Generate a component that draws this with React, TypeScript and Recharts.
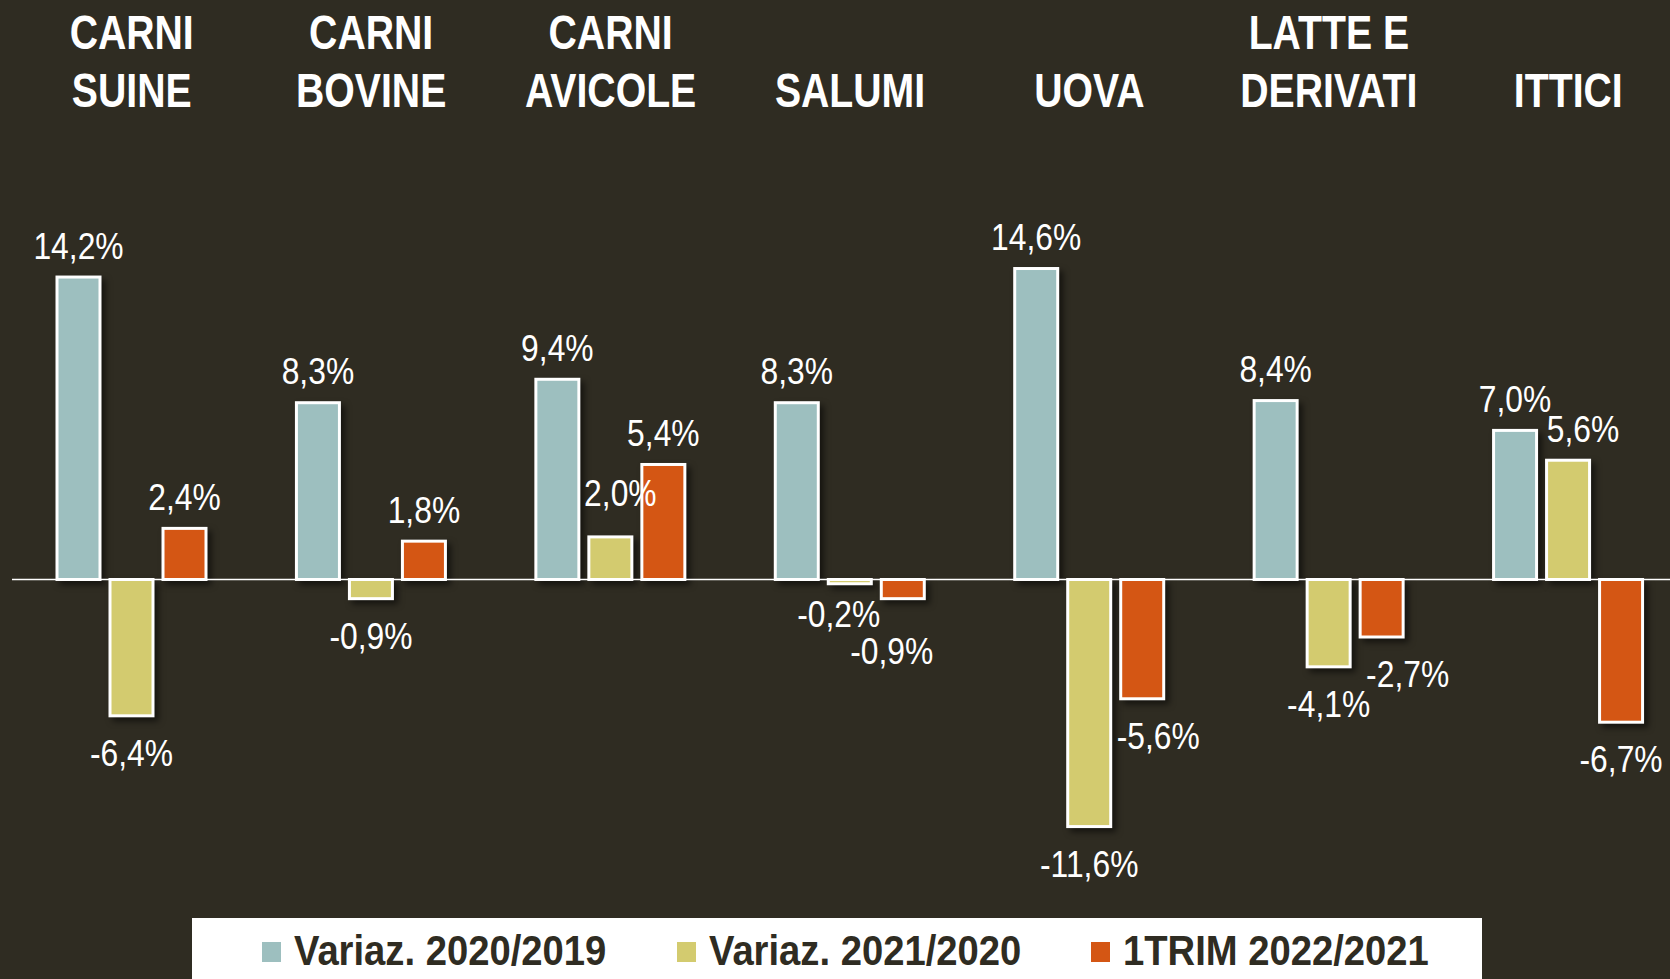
import { BarChart, Bar, XAxis, YAxis, ReferenceLine, LabelList } from 'recharts';

const categories = ['CARNI\nSUINE', 'CARNI\nBOVINE', 'CARNI\nAVICOLE', 'SALUMI', 'UOVA', 'LATTE E\nDERIVATI', 'ITTICI'];
const var2020 = [14.2, 8.3, 9.4, 8.3, 14.6, 8.4, 7.0];
const var2021 = [-6.4, -0.9, 2.0, -0.2, -11.6, -4.1, 5.6];
const trim2022 = [2.4, 1.8, 5.4, -0.9, -5.6, -2.7, -6.7];
const seriesNames = ['Variaz. 2020/2019', 'Variaz. 2021/2020', '1TRIM 2022/2021'];
const yDomain = [-15, 20];

const BG = '#2F2C22';
const COLORS = ['#9DBFBF', '#D3CB6F', '#D45614'];
const FONT = '"Liberation Sans", Arial, sans-serif';

// hand-placed labels in the original (dx, dy)
const labelNudge: Record<string, [number, number]> = {
  'v2021-2': [10, -12],
  'v2021-6': [15, 0],
  'v2021-3': [-11, -7],
  'v2022-3': [-11, 15],
  'v2022-4': [16, 0],
  'v2022-5': [26, 0],
};

const data = categories.map((name, i) => ({
  name,
  v2020: var2020[i],
  v2021: var2021[i],
  v2022: trim2022[i],
}));

const fmt = (v: number) => v.toFixed(1).replace('.', ',') + '%';

function BarShape(props: any) {
  const { x, y, width, height, fill } = props;
  const top = Math.min(y, y + height);
  const h = Math.abs(height);
  return (
    <rect
      x={x}
      y={top}
      width={width}
      height={h}
      fill={fill}
      stroke="#fff"
      strokeWidth={3}
      style={{ filter: 'drop-shadow(4px 4px 3px rgba(0,0,0,0.55))' }}
    />
  );
}

const makeLabel = (key: string) => (props: any) => {
  const vb = props.viewBox || {};
  const x = props.x ?? vb.x;
  const y = props.y ?? vb.y;
  const w = props.width ?? vb.width;
  const h = props.height ?? vb.height;
  const value = Number(props.value);
  if (x == null || y == null) return null;
  const top = Math.min(y, y + h);
  const bottom = Math.max(y, y + h);
  const [dx, dy] = labelNudge[`${key}-${props.index}`] || [0, 0];
  const cx = x + w / 2 + dx;
  const by = (value >= 0 ? top - 18.5 : bottom + 50) + dy;
  return (
    <text
      transform={`translate(${cx},${by}) scale(0.86,1)`}
      textAnchor="middle"
      fill="#fff"
      fontFamily={FONT}
      fontSize={37}
    >
      {fmt(value)}
    </text>
  );
};

function TitleTick(props: any) {
  const { x, y, payload } = props;
  const lines = String(payload.value).split('\n');
  return (
    <g>
      {lines.map((line, i) => (
        <text
          key={i}
          transform={`translate(${x},${y - 46.5 - (lines.length - 1 - i) * 58}) scale(0.8,1)`}
          textAnchor="middle"
          fill="#fff"
          fontFamily={FONT}
          fontWeight="bold"
          fontSize={49}
        >
          {line}
        </text>
      ))}
    </g>
  );
}

const keys = ['v2020', 'v2021', 'v2022'];
const legendX = [70, 485, 899];

export default function App() {
  return (
    <div
      style={{
        position: 'fixed',
        top: 0,
        left: 0,
        width: 1670,
        height: 979,
        overflow: 'hidden',
        background: BG,
      }}
    >
      <BarChart
        width={1690}
        height={979}
        data={data}
        margin={{ top: 0, right: 2, bottom: 80, left: 12 }}
        barSize={43}
        barGap={10}
      >
        <XAxis
          dataKey="name"
          orientation="top"
          height={153.5}
          axisLine={false}
          tickLine={false}
          tickSize={0}
          tickMargin={0}
          interval={0}
          tick={<TitleTick />}
        />
        <YAxis hide domain={yDomain} />
        <ReferenceLine y={0} stroke="#fff" strokeWidth={1.5} />
        {keys.map((k, i) => (
          <Bar key={k} dataKey={k} name={seriesNames[i]} fill={COLORS[i]} shape={<BarShape />} isAnimationActive={false}>
            <LabelList dataKey={k} content={makeLabel(k)} />
          </Bar>
        ))}
      </BarChart>
      <svg
        width={1290}
        height={61}
        style={{ position: 'absolute', left: 192, top: 918 }}
      >
        <rect x={0} y={0} width={1290} height={61} fill="#fff" />
        {seriesNames.map((n, i) => (
          <g key={n}>
            <rect x={legendX[i]} y={24} width={19} height={20} fill={COLORS[i]} />
            <text
              transform={`translate(${legendX[i] + 32},47) scale(0.91,1)`}
              fill={BG}
              fontFamily={FONT}
              fontWeight="bold"
              fontSize={42}
            >
              {n}
            </text>
          </g>
        ))}
      </svg>
    </div>
  );
}
